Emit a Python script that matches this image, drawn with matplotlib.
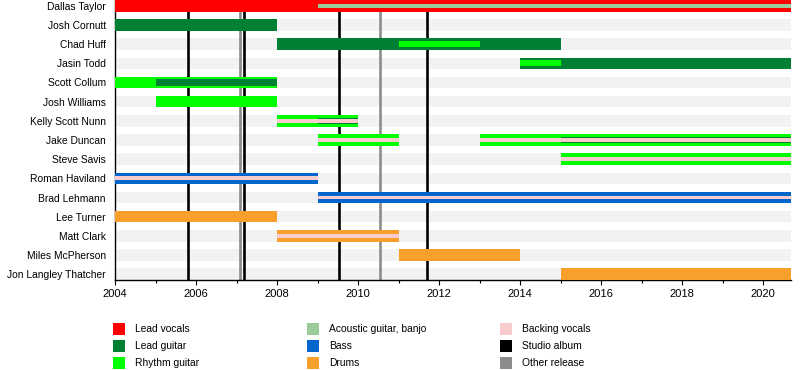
import matplotlib
matplotlib.use('Agg')
import matplotlib.pyplot as plt
from matplotlib.patches import Rectangle
from matplotlib.ticker import MultipleLocator

plt.rcParams['font.family'] = ['Liberation Sans', 'DejaVu Sans']

START = 2004
END = 2020.68

members = ["Dallas Taylor", "Josh Cornutt", "Chad Huff", "Jasin Todd", "Scott Collum",
           "Josh Williams", "Kelly Scott Nunn", "Jake Duncan", "Steve Savis",
           "Roman Haviland", "Brad Lehmann", "Lee Turner", "Matt Clark",
           "Miles McPherson", "Jon Langley Thatcher"]

lead_vocals = [("Dallas Taylor", 2004, END)]
acoustic = [("Dallas Taylor", 2009, END)]
lead_guitar = [("Josh Cornutt", 2004, 2008), ("Chad Huff", 2008, 2015), ("Jasin Todd", 2014, END)]
lead_guitar_stripe = [("Scott Collum", 2005, 2008), ("Kelly Scott Nunn", 2009, 2010),
                      ("Jake Duncan", 2015, END)]
rhythm_guitar = [("Scott Collum", 2004, 2008), ("Josh Williams", 2005, 2008),
                 ("Kelly Scott Nunn", 2008, 2010), ("Jake Duncan", 2009, 2011),
                 ("Jake Duncan", 2013, END), ("Steve Savis", 2015, END)]
rhythm_guitar_stripe = [("Chad Huff", 2011, 2013), ("Jasin Todd", 2014, 2015)]
bass = [("Roman Haviland", 2004, 2009), ("Brad Lehmann", 2009, END)]
drums = [("Lee Turner", 2004, 2008), ("Matt Clark", 2008, 2011),
         ("Miles McPherson", 2011, 2014), ("Jon Langley Thatcher", 2015, END)]
backing_vocals = [("Kelly Scott Nunn", 2008, 2010), ("Jake Duncan", 2009, 2011),
                  ("Jake Duncan", 2013, END), ("Steve Savis", 2015, END),
                  ("Roman Haviland", 2004, 2009), ("Brad Lehmann", 2009, END),
                  ("Matt Clark", 2008, 2011)]
studio_albums = [2005.81, 2007.19, 2009.54, 2011.70]
other_releases = [2007.09, 2010.54]

C_LEADV = '#ff0000'
C_LEADG = '#008033'
C_RHY = '#00ff00'
C_AC = '#99cc99'
C_BASS = '#0066cc'
C_DRUM = '#f9a02c'
C_BACK = '#f8cccc'
C_STUDIO = '#000000'
C_OTHER = '#8c8c8c'

fig = plt.figure(figsize=(8, 3.7), dpi=100)
ax = fig.add_axes([115/800, 90/370, 675.7/800, 280/370])

ypos = {m: i for i, m in enumerate(members)}

# background bars
ax.barh(range(len(members)), [END - START]*len(members), left=START, height=0.6,
        color='#f2f2f2', zorder=1, linewidth=0)

for x in studio_albums:
    ax.axvline(x, color=C_STUDIO, lw=1.9, zorder=2)
for x in other_releases:
    ax.axvline(x, color=C_OTHER, lw=1.9, zorder=2)

def draw(periods, color, height, z):
    for m, s, e in periods:
        ax.barh(ypos[m], e - s, left=s, height=height, color=color, zorder=z, linewidth=0)

draw(lead_vocals, C_LEADV, 0.6, 3)
draw(lead_guitar, C_LEADG, 0.6, 3)
draw(rhythm_guitar, C_RHY, 0.6, 3)
draw(bass, C_BASS, 0.6, 3)
draw(drums, C_DRUM, 0.6, 3)
draw(lead_guitar_stripe, C_LEADG, 0.32, 4)
draw(rhythm_guitar_stripe, C_RHY, 0.3, 4)
draw(acoustic, C_AC, 0.2, 5)
draw(backing_vocals, C_BACK, 0.2, 5)

ax.set_xlim(START, END)
ax.set_ylim(len(members) - 1 + 0.3, -0.3)
ax.set_yticks(range(len(members)))
ax.set_yticklabels(members, fontsize=7.4)
ax.tick_params(axis='y', length=0, pad=6.5)
ax.xaxis.set_major_locator(MultipleLocator(2))
ax.xaxis.set_minor_locator(MultipleLocator(1))
ax.tick_params(axis='x', which='major', length=3.5, width=0.8, labelsize=8, pad=3)
ax.tick_params(axis='x', which='minor', length=2, width=0.8)
for sp in ['top', 'right']:
    ax.spines[sp].set_visible(False)
for sp in ['left', 'bottom']:
    ax.spines[sp].set_linewidth(1.0)
ax.set_facecolor('white')

legend_cols = [
    [("Lead vocals", C_LEADV), ("Lead guitar", C_LEADG), ("Rhythm guitar", C_RHY)],
    [("Acoustic guitar, banjo", C_AC), ("Bass", C_BASS), ("Drums", C_DRUM)],
    [("Backing vocals", C_BACK), ("Studio album", C_STUDIO), ("Other release", C_OTHER)],
]
col_x = [113, 307, 500]
row_y = [329, 346, 363]
for cx, col in zip(col_x, legend_cols):
    for ry, (label, color) in zip(row_y, col):
        fig.add_artist(Rectangle(((cx)/800, (370 - ry - 6)/370), 12/800, 12/370,
                                 transform=fig.transFigure, color=color, linewidth=0))
        fig.text((cx + 22)/800, (370 - ry)/370, label, fontsize=7.4, va='center', ha='left')

fig.savefig('out.png', dpi=100)
